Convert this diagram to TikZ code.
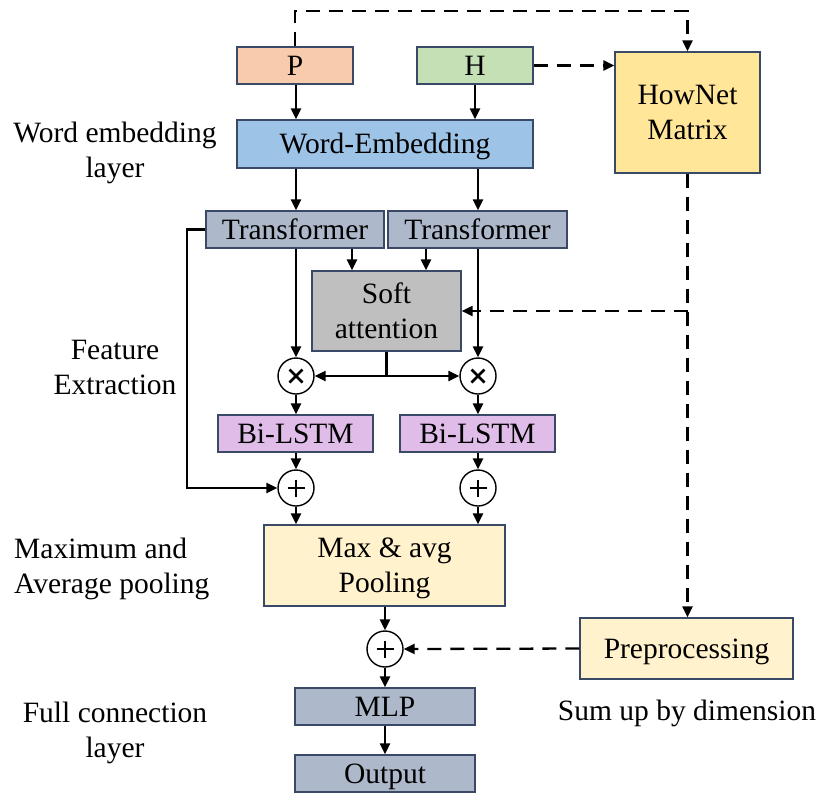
\documentclass[tikz,border=0pt]{standalone}
\usepackage{fontspec}
\setmainfont{Liberation Serif}
\usetikzlibrary{arrows.meta,calc}
\definecolor{bordc}{HTML}{3A4A66}
\definecolor{cP}{HTML}{F8CBAD}
\definecolor{cH}{HTML}{C5E0B4}
\definecolor{cWE}{HTML}{9DC3E6}
\definecolor{cHN}{HTML}{FFE699}
\definecolor{cT}{HTML}{ADB9CA}
\definecolor{cSA}{HTML}{BFBFBF}
\definecolor{cBL}{HTML}{E0BCE9}
\definecolor{cPO}{HTML}{FFF2CC}
\tikzset{
  box/.style={draw=bordc, line width=1.4pt, inner sep=0pt, align=center,
    font=\fontsize{29.5}{35}\selectfont},
  oneline/.style={text height=19.5pt, text depth=0pt},
  twoline/.style={text height=54.5pt, text depth=0pt},
  lbl/.style={inner sep=0pt, align=center, font=\fontsize{29.5}{35}\selectfont},
  opc/.style={circle, draw=black, line width=1.4pt, fill=white, minimum size=36pt, inner sep=0pt},
  arr/.style={line width=2.3pt, -{Triangle[length=11pt,width=10pt]}},
  dline/.style={line width=2.3pt, dash pattern=on 14pt off 9pt},
  darr/.style={dline, -{Triangle[length=11pt,width=10pt]}},
  sym/.style={line width=2.6pt},
}
\begin{document}
\begin{tikzpicture}[x=1pt,y=-1pt]
\useasboundingbox (0,0) rectangle (819,796);
% column coordinates
\coordinate (cL) at (296,0);
\coordinate (cR) at (478,0);
\coordinate (cSL) at (352,0);
\coordinate (cSR) at (426,0);
\coordinate (topY) at (0,11);
% boxes
\node[box, oneline, fill=cP, minimum width=116pt, minimum height=37pt] (P) at (295,65.5) {P};
\node[box, oneline, fill=cH, minimum width=116pt, minimum height=37pt] (H) at (475,65.5) {H};
\node[box, oneline, fill=cWE, minimum width=296pt, minimum height=48pt] (WE) at (385,144) {Word-Embedding};
\node[box, twoline, fill=cHN, minimum width=145pt, minimum height=121pt] (HN) at (687.5,112.5) {HowNet\\Matrix};
\node[box, oneline, fill=cT, minimum width=178pt, minimum height=37pt] (T1) at (295,229.5) {Transformer};
\node[box, oneline, fill=cT, minimum width=179pt, minimum height=37pt] (T2) at (477.5,229.5) {Transformer};
\node[box, twoline, fill=cSA, minimum width=149pt, minimum height=80pt] (SA) at (386.5,311) {Soft\\attention};
\node[opc] (X1) at (296,376) {};
\node[opc] (X2) at (478,376) {};
\node[box, oneline, fill=cBL, minimum width=155pt, minimum height=37pt] (B1) at (295.5,433.5) {Bi-LSTM};
\node[box, oneline, fill=cBL, minimum width=155pt, minimum height=37pt] (B2) at (477.5,433.5) {Bi-LSTM};
\node[opc] (A1) at (296,488) {};
\node[opc] (A2) at (478,488) {};
\node[box, twoline, fill=cPO, minimum width=241pt, minimum height=81pt] (PL) at (384.5,565.5) {Max \& avg\\Pooling};
\node[opc] (A3) at (385,649) {};
\node[box, oneline, fill=cPO, minimum width=213pt, minimum height=61pt] (PP) at (686.5,648.5) {Preprocessing};
\node[box, oneline, fill=cT, minimum width=180pt, minimum height=37pt] (MLP) at (385,706.5) {MLP};
\node[box, oneline, fill=cT, minimum width=180pt, minimum height=37pt] (OUT) at (385,773.5) {Output};
% symbols in circles
\foreach \c in {X1,X2}{
  \draw[sym] ($(\c)+(-6.5,-6.5)$) -- ($(\c)+(6.5,6.5)$);
  \draw[sym] ($(\c)+(-6.5,6.5)$) -- ($(\c)+(6.5,-6.5)$);
}
\foreach \c in {A1,A2}{
  \draw[sym] ($(\c)+(-8.5,0)$) -- ($(\c)+(8.5,0)$);
  \draw[sym] ($(\c)+(0,-8.5)$) -- ($(\c)+(0,8.5)$);
}
\draw[line width=1.2pt] ($(A3)+(-8.5,0)$) -- ($(A3)+(8.5,0)$);
\draw[line width=1.2pt] ($(A3)+(0,-8.5)$) -- ($(A3)+(0,8.5)$);
% labels
\node[lbl] (L1) at (115,153) {Word embedding\\layer};
\node[lbl] (L2) at (115,367) {Feature\\Extraction};
\node[lbl, align=left, anchor=west] (L3) at (14,569) {Maximum and\\Average pooling};
\node[lbl] (L4) at (115,733) {Full connection\\layer};
\node[lbl] (L5) at (687,713) {Sum up by dimension};
% solid connectors
\draw[arr] (P.south -| cL) -- (WE.north -| cL);
\draw[arr] (H.south) -- (H.south |- WE.north);
\draw[arr] (WE.south -| cL) -- (T1.north -| cL);
\draw[arr] (WE.south -| cR) -- (T2.north -| cR);
\draw[arr] (T1.south -| cSL) -- (SA.north -| cSL);
\draw[arr] (T2.south -| cSR) -- (SA.north -| cSR);
\draw[arr] (T1.south -| cL) -- (X1.north);
\draw[arr] (T2.south -| cR) -- (X2.north);
\draw[arr] (SA.south) -- (SA.south |- X1) -- (X1.east);
\draw[arr] (SA.south |- X2) -- (X2.west);
\draw[arr] (X1.south) -- (B1.north -| X1);
\draw[arr] (X2.south) -- (B2.north -| X2);
\draw[arr] (B1.south -| A1) -- (A1.north);
\draw[arr] (B2.south -| A2) -- (A2.north);
\draw[arr] (T1.west) -- ++(-18,0) |- (A1.west);
\draw[arr] (A1.south) -- (PL.north -| A1);
\draw[arr] (A2.south) -- (PL.north -| A2);
\draw[arr] (PL.south -| A3) -- (A3.north);
\draw[arr] (A3.south) -- (MLP.north -| A3);
\draw[arr] (MLP.south) -- (OUT.north);
% dashed connectors
\draw[darr] (P.north) -- (P.north |- topY) -| (HN.north);
\draw[darr] (H.east) -- (H.east -| HN.west);
\draw[darr] (HN.south) -- (PP.north -| HN.south);
\draw[darr] (HN.south |- SA.east) -- (SA.east);
\draw[darr] (PP.west) -- (A3.east);
\end{tikzpicture}
\end{document}
